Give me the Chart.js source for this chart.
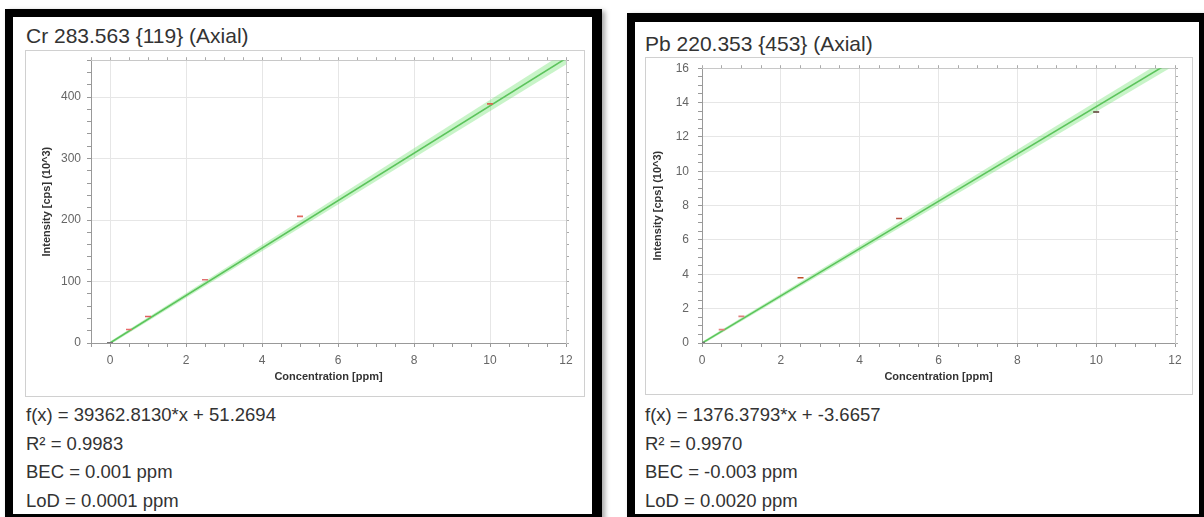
<!DOCTYPE html>
<html>
<head>
<meta charset="utf-8">
<script src="https://cdn.jsdelivr.net/npm/chart.js@4"></script>
<style>
  body { margin: 0; background: #fff; width: 1204px; height: 517px; overflow: hidden; position: relative;
         font-family: "Liberation Sans", Arial, sans-serif; color: #333; }
  .frame { position: absolute; border: solid #000; background: #fff; box-shadow: 3px 2px 5px rgba(0,0,0,0.35); box-sizing: border-box; }
  .box { position: absolute; border: 1px solid #d0d0d0; box-sizing: border-box; }
  .box canvas { position: absolute; left: 0; }
  .title { position: absolute; font-size: 21px; white-space: nowrap; }
  .stats { position: absolute; font-size: 18.5px; line-height: 28.5px; white-space: nowrap; }
</style>
</head>
<body>
<div class="frame" style="left:5px;top:9px;width:597px;height:511px;border-width:8px 10px 6px 8px;"></div>
<div class="frame" style="left:627px;top:13px;width:580px;height:507px;border-width:9px 8px 6px 8px;"></div>

<div class="title" style="left:26px;top:24px;">Cr 283.563 {119} (Axial)</div>
<div class="box" style="left:25px;top:50px;width:560px;height:347px;"><canvas id="crChart" width="558" height="349" style="top:-4px"></canvas></div>
<div class="stats" style="left:26px;top:401px;">
  f(x) = 39362.8130*x + 51.2694<br>R² = 0.9983<br>BEC = 0.001 ppm<br>LoD = 0.0001 ppm
</div>

<div class="title" style="left:645px;top:32px;">Pb 220.353 {453} (Axial)</div>
<div class="box" style="left:645px;top:57px;width:548px;height:338px;"><canvas id="pbChart" width="546" height="342" style="top:-6px"></canvas></div>
<div class="stats" style="left:645px;top:401px;">
  f(x) = 1376.3793*x + -3.6657<br>R² = 0.9970<br>BEC = -0.003 ppm<br>LoD = 0.0020 ppm
</div>

<script>
// calibration standards, concentration [ppm]
const concentrations = [0, 0.5, 1, 2.5, 5, 10];
// measured intensity [cps] (10^3)
const intensityCr = [0.4, 22, 43, 103, 206, 389];
const intensityPb = [0.02, 0.78, 1.55, 3.8, 7.25, 13.45];

// regression line and its band, at both ends of the x range
const fitConc = [0, 12];
const fitCr = [0.05, 463];
const fitPb = [-0.004, 16.51];
const bandCrLow = [-2.5, 453];
const bandCrHigh = [2.6, 474];
const bandPbLow = [-0.09, 16.18];
const bandPbHigh = [0.08, 16.85];

// tick labels
const xTickLabels = [0, 2, 4, 6, 8, 10, 12];
const yTickLabelsCr = [0, 100, 200, 300, 400];
const yTickLabelsPb = [0, 2, 4, 6, 8, 10, 12, 14, 16];

const pts = (xs, ys) => xs.map((x, i) => ({ x: x, y: ys[i] }));

const tickFont = { family: "Liberation Sans", size: 12 };
const titleFont = { family: "Liberation Sans", size: 11, weight: "bold" };

function makeChart(id, o) {
  const ctx = document.getElementById(id);
  if (!ctx) {
    console.error("canvas missing: " + id);
    return null;
  }
  const mirror = (pos, min, max, step) => ({
    type: "linear", position: pos, min: min, max: max,
    ticks: { display: false, stepSize: step, autoSkip: false },
    grid: { drawOnChartArea: false, tickLength: 3, color: "#aaa" },
    border: { color: "#c8c8c8" },
    afterFit: (s) => { if (pos === "top") s.height = 0; else s.width = 0; }
  });
  return new Chart(ctx, {
    type: "scatter",
    data: {
      datasets: [
        {
          type: "line", data: pts(fitConc, o.bandHigh), borderWidth: 0, pointRadius: 0,
          backgroundColor: "rgba(110, 225, 110, 0.38)", fill: "+1", order: 3
        },
        {
          type: "line", data: pts(fitConc, o.bandLow), borderWidth: 0, pointRadius: 0, fill: false, order: 3
        },
        {
          type: "line", data: pts(fitConc, o.fit), borderColor: "#5cc45c", borderWidth: 1.6,
          pointRadius: 0, fill: false, order: 2
        },
        {
          data: pts(concentrations, o.intensity), pointStyle: "line", pointRadius: 3,
          pointBorderWidth: 1.6, pointBorderColor: o.pointColors, order: 1
        }
      ]
    },
    options: {
      responsive: false,
      animation: false,
      layout: { padding: o.padding },
      plugins: { legend: { display: false }, tooltip: { enabled: false } },
      scales: {
        x: {
          type: "linear", min: o.xMin, max: 12,
          ticks: {
            stepSize: 0.5, autoSkip: false, maxRotation: 0, padding: 6,
            color: "#666", font: tickFont,
            callback: (v) => (xTickLabels.includes(v) ? v : "")
          },
          grid: {
            tickLength: 4, tickColor: "#999",
            color: (c) => (c.tick && xTickLabels.includes(c.tick.value) ? "#e6e6e6" : "rgba(0,0,0,0)")
          },
          border: { color: "#999" },
          title: { display: true, text: "Concentration [ppm]", color: "#333", font: titleFont, padding: 4 },
          afterFit: (s) => { s.height = 45; }
        },
        y: {
          type: "linear", min: 0, max: o.yMax,
          ticks: {
            stepSize: o.yStep, autoSkip: false, padding: o.yPad,
            color: "#666", font: tickFont,
            callback: (v) => (o.yLabels.includes(v) ? v : "")
          },
          grid: {
            tickLength: 4, tickColor: "#999",
            color: (c) => (c.tick && o.yLabels.includes(c.tick.value) ? "#e6e6e6" : "rgba(0,0,0,0)")
          },
          border: { color: "#999" },
          title: { display: true, text: "Intensity [cps] (10^3)", color: "#333", font: titleFont, padding: 4 },
          afterFit: (s) => { s.width = 55; }
        },
        xTop: mirror("top", o.xMin, 12, 0.5),
        yRight: mirror("right", 0, o.yMax, o.yStep)
      }
    }
  });
}

makeChart("crChart", {
  intensity: intensityCr, fit: fitCr, bandLow: bandCrLow, bandHigh: bandCrHigh,
  xMin: -0.5, yMax: 460, yStep: 20, yLabels: yTickLabelsCr, yPad: 6,
  padding: { left: 10, top: 6, right: 18, bottom: 8 },
  pointColors: ["#777", "#e86a6a", "#e06060", "#e07070", "#e06a60", "#d96a55"]
});

makeChart("pbChart", {
  intensity: intensityPb, fit: fitPb, bandLow: bandPbLow, bandHigh: bandPbHigh,
  xMin: 0, yMax: 16, yStep: 0.5, yLabels: yTickLabelsPb, yPad: 9,
  padding: { left: 1, top: 4, right: 17, bottom: 6 },
  pointColors: ["#777", "#e88080", "#e08080", "#c0502a", "#b85040", "#5a3a30"]
});
</script>
</body>
</html>
